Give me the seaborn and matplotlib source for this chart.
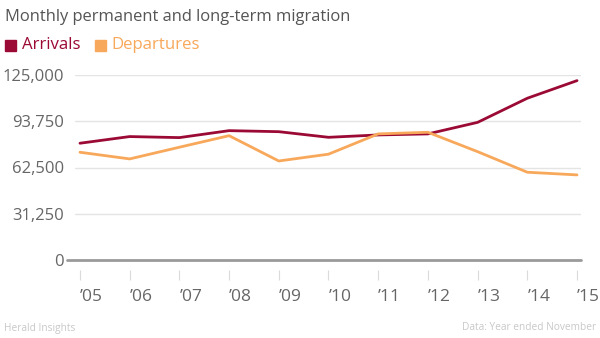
import matplotlib
matplotlib.use("Agg")
import matplotlib.pyplot as plt
from matplotlib.patches import Rectangle
import seaborn as sns
import pandas as pd

# Monthly permanent and long-term migration, year ended November
years = ["\u201905", "\u201906", "\u201907", "\u201908", "\u201909", "\u201910",
         "\u201911", "\u201912", "\u201913", "\u201914", "\u201915"]
arrivals = [78900, 83400, 82700, 87400, 86700, 82900, 84500, 85200, 93000, 109300, 121200]
departures = [72800, 68300, 76200, 84000, 66900, 71500, 85200, 86300, 73200, 59300, 57500]
series_names = ["Arrivals", "Departures"]
y_ticks = [0, 31250, 62500, 93750, 125000]

colors = {"Arrivals": "#9b0a35", "Departures": "#f8a85a"}

df = pd.DataFrame({
    "idx": list(range(len(years))) * 2,
    "value": arrivals + departures,
    "series": ["Arrivals"] * len(years) + ["Departures"] * len(years),
})

sns.set_theme(style="white")
plt.rcParams["font.family"] = ["Open Sans", "DejaVu Sans"]

fig = plt.figure(figsize=(6.0, 3.38), dpi=100)
W, H = 600, 338
ax_left, ax_right, ax_top, ax_bottom = 75, 581, 75, 270
ax = fig.add_axes([ax_left / W, 1 - ax_bottom / H, (ax_right - ax_left) / W, (ax_bottom - ax_top) / H])

sns.lineplot(data=df, x="idx", y="value", hue="series", palette=colors,
             hue_order=series_names, linewidth=2.0, legend=False, ax=ax)

# y range: 125,000 at top; baseline sits ten pixels above the axes bottom
px_per_unit = 125000 / (260 - 75)
ax.set_ylim(-10 * px_per_unit, 125000)
ax.set_xlim(-0.1, 10.08)

ax.set_yticks(y_ticks)
ax.set_yticklabels([f"{v:,}" for v in y_ticks])
ax.set_xticks(range(len(years)))
ax.set_xticklabels(years, ha="left")

ax.grid(axis="y", color="#e4e4e4", linewidth=1.0)
ax.grid(axis="x", visible=False)
for s in ax.spines.values():
    s.set_visible(False)

# baseline at zero, extending slightly left of the grid
ax.axhline(0, xmin=-8 / (ax_right - ax_left), xmax=1, color="#9a9a9a",
           linewidth=2.0, clip_on=False, zorder=1)

ax.tick_params(axis="y", length=0, pad=8, labelsize=12, labelcolor="#666666")
ax.tick_params(axis="x", length=7, width=0.8, color="#dadada", direction="out",
               pad=6.5, labelsize=12.5, labelcolor="#666666", bottom=True)
ax.set_xlabel("")
ax.set_ylabel("")

# title
fig.text(5 / W, 1 - 17 / H, "Monthly permanent and long-term migration",
         fontsize=11.9, color="#555555", va="center", ha="left")

# legend
leg_y = 45
fig.patches.append(Rectangle((5 / W, 1 - 51 / H), 11 / W, 11 / H,
                             transform=fig.transFigure, color=colors["Arrivals"]))
fig.text(22 / W, 1 - leg_y / H, "Arrivals", fontsize=12.1,
         color=colors["Arrivals"], va="center", ha="left")
fig.patches.append(Rectangle((95 / W, 1 - 51 / H), 11 / W, 11 / H,
                             transform=fig.transFigure, color=colors["Departures"]))
fig.text(111 / W, 1 - leg_y / H, "Departures", fontsize=12.1,
         color=colors["Departures"], va="center", ha="left")

# footer
fig.text(4 / W, 1 - 328 / H, "Herald Insights", fontsize=7.3,
         color="#c8c8c8", va="center", ha="left")
fig.text(596 / W, 1 - 328 / H, "Data: Year ended November", fontsize=7.3,
         color="#c8c8c8", va="center", ha="right")

fig.savefig("out.png", dpi=100)
